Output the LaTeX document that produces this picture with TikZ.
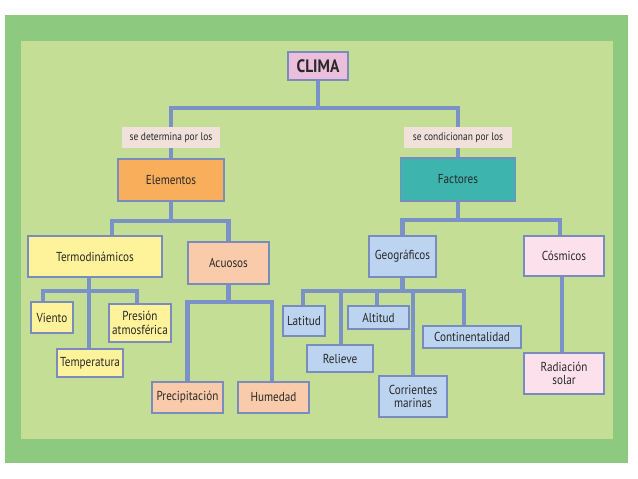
\documentclass[tikz,border=0pt]{standalone}
\usepackage{fontspec}
\setmainfont{PT Sans}[FakeStretch=0.86]
\usetikzlibrary{positioning}

\definecolor{framegreen}{RGB}{141,201,127}
\definecolor{panelgreen}{RGB}{197,222,149}
\definecolor{linkblue}{RGB}{122,146,200}
\definecolor{boxline}{RGB}{122,140,190}
\definecolor{textgray}{RGB}{40,40,40}
\definecolor{climapink}{RGB}{235,190,220}
\definecolor{labelpink}{RGB}{240,226,218}
\definecolor{elemorange}{RGB}{249,174,92}
\definecolor{factteal}{RGB}{61,181,174}
\definecolor{termoyellow}{RGB}{254,243,154}
\definecolor{acuosalmon}{RGB}{249,203,170}
\definecolor{geoblue}{RGB}{188,212,240}
\definecolor{cosmopink}{RGB}{252,225,236}

\begin{document}
\begin{tikzpicture}[x=1pt,y=-1pt,font=\fontsize{13}{13.5}\selectfont,
                    link/.style={line width=4.5pt,draw=linkblue}]

  \tikzstyle{box}=[rectangle,draw=boxline,line width=1.3pt,align=center,
                   inner sep=0pt,text=textgray]
  \tikzstyle{tag}=[rectangle,fill=labelpink,inner sep=0pt,text=textgray,
                   font=\fontsize{11}{12}\selectfont]

  % background and frame
  \useasboundingbox (0,0) rectangle (638,479);
  \fill[white] (0,0) rectangle (638,479);
  \fill[framegreen] (5,15) rectangle (628,463);
  \fill[panelgreen] (21,41) rectangle (613,439);

  % top of the map
  \node[box,fill=climapink,minimum width=60pt,minimum height=28pt,
        font=\fontsize{18}{19}\selectfont\bfseries] (clima) at (318,66) {CLIMA};
  \node[tag,minimum width=98pt,minimum height=21pt] (det)  at (171,137.5) {se determina por los};
  \node[tag,minimum width=108pt,minimum height=21pt] (cond) at (458,137.5) {se condicionan por los};

  \node[box,fill=elemorange,minimum width=106pt,minimum height=42pt] (elem) at (171,180) {Elementos};
  \node[box,fill=factteal,minimum width=115pt,minimum height=43pt]   (fact) at (458,179.5) {Factores};

  % elementos
  \node[box,fill=termoyellow,minimum width=134pt,minimum height=41pt] (termo) at (95,256.5) {Termodinámicos};
  \node[box,fill=acuosalmon,minimum width=81pt,minimum height=42pt]   (acuo)  at (228.5,263) {Acuosos};

  \node[box,fill=termoyellow,minimum width=42pt,minimum height=31pt] (viento) at (52,317.5) {Viento};
  \node[box,fill=termoyellow,minimum width=62pt,minimum height=38pt] (presion) at (140,323) {Presión\\atmosférica};
  \node[box,fill=termoyellow,minimum width=66pt,minimum height=28pt] (temp) at (90,363) {Temperatura};
  \node[box,fill=acuosalmon,minimum width=71pt,minimum height=31pt] (precip) at (187.5,397.5) {Precipitación};
  \node[box,fill=acuosalmon,minimum width=71pt,minimum height=31pt] (humedad) at (273.5,397.5) {Humedad};

  % factores
  \node[box,fill=geoblue,minimum width=67pt,minimum height=41pt]    (geo)  at (402.5,256.5) {Geográficos};
  \node[box,fill=cosmopink,minimum width=80pt,minimum height=40pt]  (cosmo) at (564,256) {Cósmicos};

  \node[box,fill=geoblue,minimum width=42pt,minimum height=30pt] (latitud) at (304,321) {Latitud};
  \node[box,fill=geoblue,minimum width=61pt,minimum height=23pt] (altitud) at (378.5,317.5) {Altitud};
  \node[box,fill=geoblue,minimum width=66pt,minimum height=27pt] (relieve) at (340,358.5) {Relieve};
  \node[box,fill=geoblue,minimum width=68pt,minimum height=41pt] (corr) at (413,396.5) {Corrientes\\marinas};
  \node[box,fill=geoblue,minimum width=98pt,minimum height=22pt] (conti) at (472,337) {Continentalidad};
  \node[box,fill=cosmopink,minimum width=80pt,minimum height=41pt] (radia) at (564,373.5) {Radiación\\solar};

  % junctions
  \coordinate (jClima) at (318,108);
  \coordinate (jElem)  at (171,221);
  \coordinate (jFact)  at (458,220);
  \coordinate (jTermo) at (89,291);
  \coordinate (jAcuo)  at (228.5,302);
  \coordinate (jGeo)   at (402.5,291);

  \draw[link] (clima.south) -- (jClima);
  \draw[link] (det.north) |- (jClima);
  \draw[link] (cond.north) |- (jClima);
  \draw[link] (det.south) -- (elem.north);
  \draw[link] (cond.south) -- (fact.north);

  \draw[link] (elem.south) -- (jElem);
  \draw[link] ([xshift=17pt]termo.north) |- (jElem);
  \draw[link] (acuo.north) |- (jElem);

  \draw[link] (fact.south) -- (jFact);
  \draw[link] (geo.north) |- (jFact);
  \draw[link] ([xshift=-4pt]cosmo.north) |- (jFact);

  \draw[link] ([xshift=-6pt]termo.south) -- (jTermo);
  \draw[link] (jTermo) -- ([xshift=-1pt]temp.north);
  \draw[link] ([xshift=-9pt]viento.north) |- (jTermo);
  \draw[link] ([xshift=-3pt]presion.north) |- (jTermo);

  \draw[link] (acuo.south) -- (jAcuo);
  \draw[link] (precip.north) |- (jAcuo);
  \draw[link] ([xshift=-1.5pt]humedad.north) |- (jAcuo);

  \draw[link] (geo.south) -- (jGeo);
  \draw[link] ([xshift=-1pt]latitud.north) |- (jGeo);
  \draw[link] ([xshift=1pt]relieve.north) |- (jGeo);
  \draw[link] ([xshift=-1.5pt]altitud.north) |- (jGeo);
  \draw[link] (corr.north) |- (jGeo);
  \draw[link] ([xshift=-8pt]conti.north) |- (jGeo);

  \draw[link] ([xshift=-2pt]cosmo.south) -- ([xshift=-2pt]radia.north);
\end{tikzpicture}
\end{document}
